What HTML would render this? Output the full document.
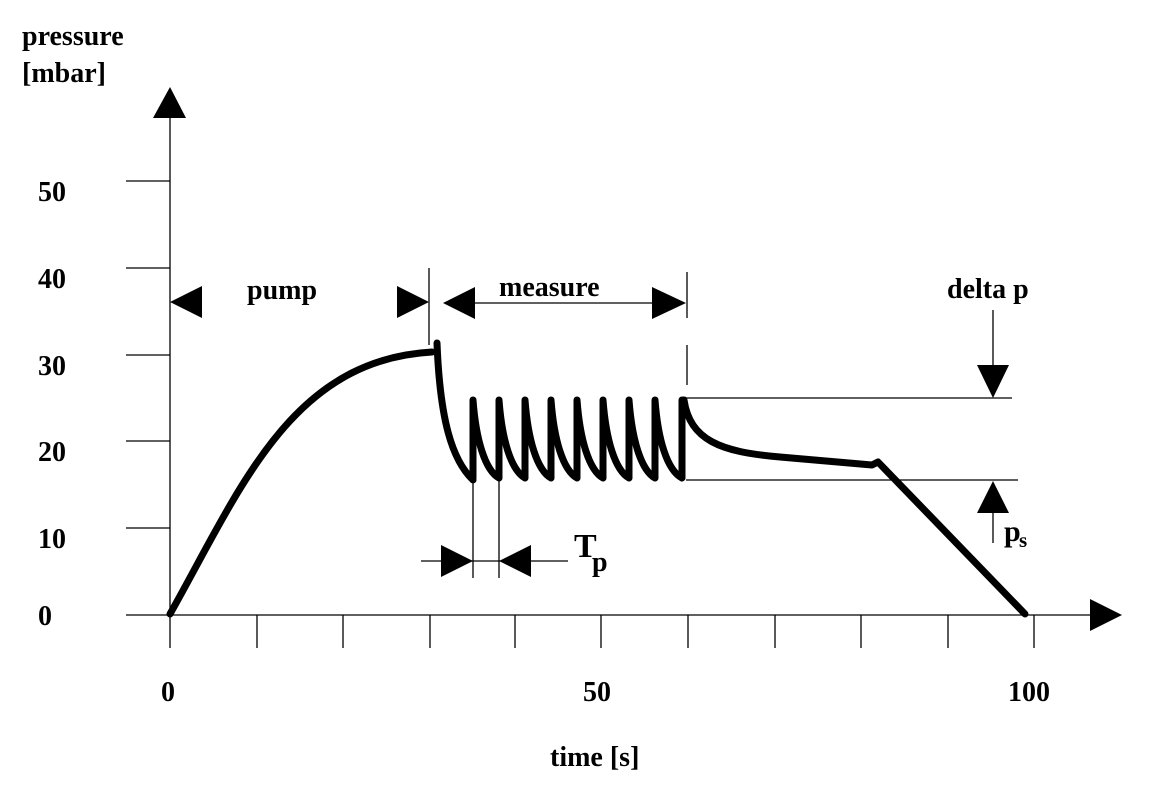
<!DOCTYPE html>
<html><head><meta charset="utf-8"><style>
html,body{margin:0;padding:0;background:#fff;}
svg text{font-family:"Liberation Serif",serif;font-weight:bold;fill:#000;}
</style></head><body>
<svg width="1152" height="798" viewBox="0 0 1152 798" xmlns="http://www.w3.org/2000/svg">
<g stroke="#000" stroke-width="1.3" fill="none">
<line x1="170" y1="118" x2="170" y2="615"/>
<line x1="126" y1="615" x2="1092" y2="615"/>
<line x1="126" y1="181" x2="170" y2="181"/>
<line x1="126" y1="268" x2="170" y2="268"/>
<line x1="126" y1="355" x2="170" y2="355"/>
<line x1="126" y1="441" x2="170" y2="441"/>
<line x1="126" y1="528" x2="170" y2="528"/>
<line x1="170" y1="615" x2="170" y2="648"/>
<line x1="257" y1="615" x2="257" y2="648"/>
<line x1="343" y1="615" x2="343" y2="648"/>
<line x1="430" y1="615" x2="430" y2="648"/>
<line x1="515" y1="615" x2="515" y2="648"/>
<line x1="601" y1="615" x2="601" y2="648"/>
<line x1="688" y1="615" x2="688" y2="648"/>
<line x1="775" y1="615" x2="775" y2="648"/>
<line x1="861" y1="615" x2="861" y2="648"/>
<line x1="948" y1="615" x2="948" y2="648"/>
<line x1="1034" y1="615" x2="1034" y2="648"/>
<line x1="429" y1="268" x2="429" y2="345"/>
<line x1="475" y1="303" x2="653" y2="303"/>
<line x1="687" y1="272" x2="687" y2="318"/>
<line x1="687" y1="345" x2="687" y2="385"/>
<line x1="473" y1="480" x2="473" y2="578"/>
<line x1="499" y1="480" x2="499" y2="578"/>
<line x1="421" y1="561" x2="568" y2="561"/>
<line x1="686" y1="398" x2="1012" y2="398"/>
<line x1="686" y1="480" x2="1018" y2="480"/>
<line x1="993" y1="310" x2="993" y2="366"/>
<line x1="993" y1="512" x2="993" y2="543"/>
</g>
<g fill="#000">
<polygon points="170,87 153,118 186,118"/>
<polygon points="1122,615 1090,599 1090,631"/>
<polygon points="170,302 202,286 202,318"/>
<polygon points="429,302 397,286 397,318"/>
<polygon points="443,303 475,287 475,319"/>
<polygon points="686,303 652,287 652,319"/>
<polygon points="473,561 441,545 441,577"/>
<polygon points="499,561 531,545 531,577"/>
<polygon points="993,398 977,365 1009,365"/>
<polygon points="993,481 977,513 1009,513"/>
</g>
<g stroke="#000" stroke-width="7" fill="none" stroke-linecap="round" stroke-linejoin="round">
<path d="M170,614 C240,490 290,360 432,352"/>
<path d="M437,343 C440,420 452,460 473,480"/>
<path d="M473,478 L473,400 C476,440 485,470 499,478 L499,400 C502,440 511,470 525,478 L525,400 C528,440 537,470 551,478 L551,400 C554,440 563,470 577,478 L577,400 C580,440 589,470 603,478 L603,400 C606,440 615,470 629,478 L629,400 C632,440 641,470 655,478 L655,400 C658,440 667,470 682,478 L682,400"/>
<path d="M684,400 C690,440 720,452 780,457 L872,465 L878,462 L1025,614"/>
</g>
<g font-size="28">
<text x="22" y="45">pressure</text>
<text x="22" y="82">[mbar]</text>
<text x="38" y="201">50</text>
<text x="38" y="288">40</text>
<text x="38" y="375">30</text>
<text x="38" y="461">20</text>
<text x="38" y="548">10</text>
<text x="38" y="625">0</text>
<text x="161" y="701">0</text>
<text x="583" y="701">50</text>
<text x="1008" y="701">100</text>
<text x="550" y="766">time [s]</text>
<text x="247" y="299">pump</text>
<text x="499" y="296">measure</text>
<text x="947" y="298">delta p</text>
<text x="574" y="557" font-size="34">T</text>
<text x="592" y="571">p</text>
<text x="1004" y="541" font-size="30">p</text>
<text x="1019" y="547" font-size="21">s</text>
</g>
</svg>
</body></html>
